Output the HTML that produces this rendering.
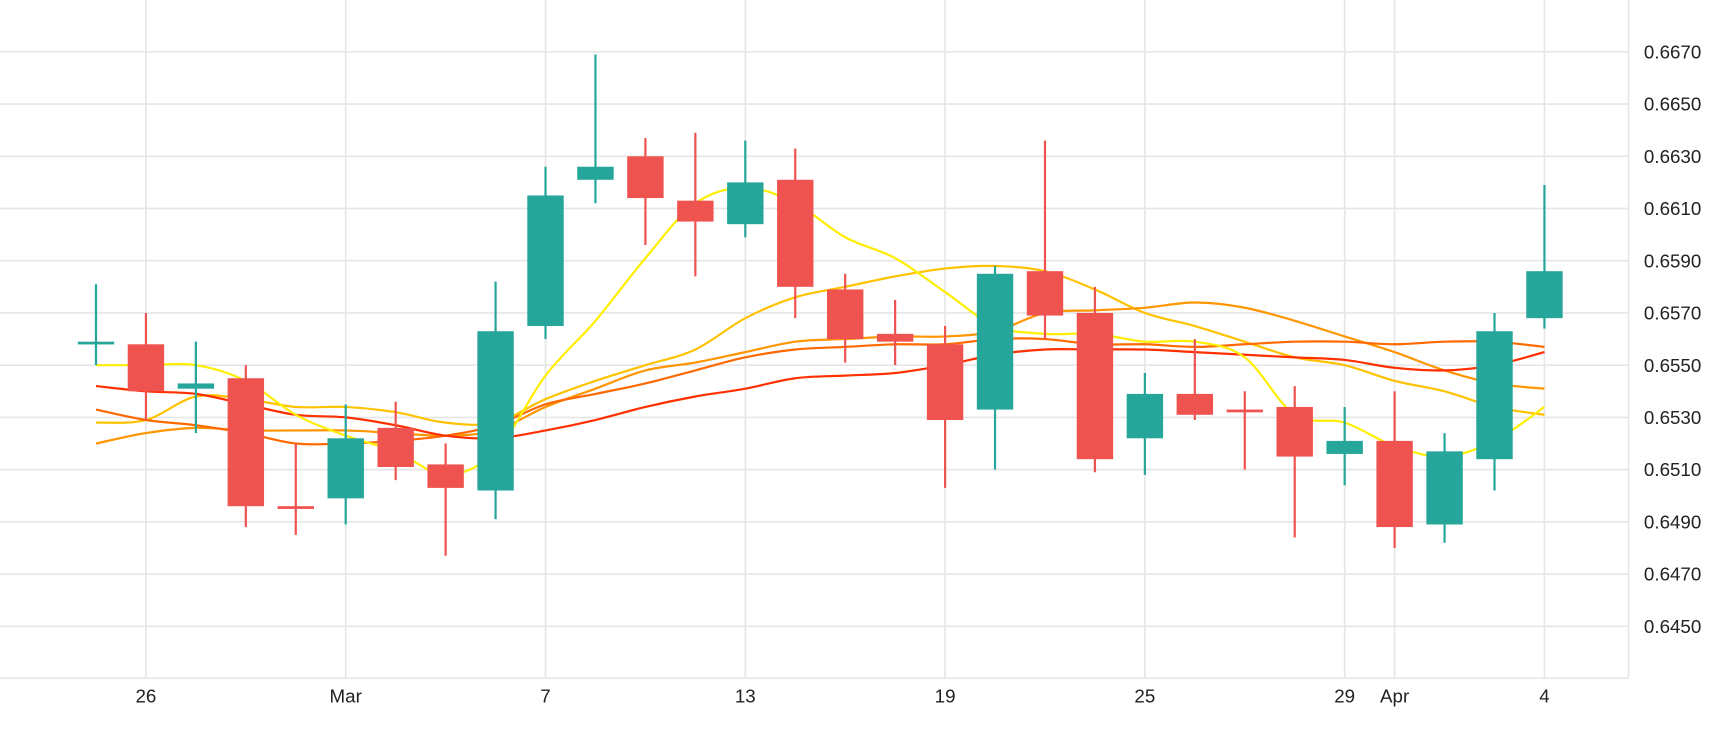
<!DOCTYPE html>
<html><head><meta charset="utf-8"><style>
html,body{margin:0;padding:0;background:#fff;}
svg{display:block;}
text{font-family:"Liberation Sans",sans-serif;fill:#222;}
</style></head><body>
<svg id="chart" width="1730" height="730" viewBox="0 0 1568 662" preserveAspectRatio="none" xmlns="http://www.w3.org/2000/svg">
<g id="grid"></g>
<g id="lines"></g>
<g id="candles"></g>
<g id="axes"></g>
</svg>
<script>
const opens  = [0.6558,0.6558,0.6541,0.6545,0.6496,0.6499,0.6526,0.6512,0.6502,0.6565,0.6621,0.6630,0.6613,0.6604,0.6621,0.6579,0.6562,0.6558,0.6533,0.6586,0.6570,0.6522,0.6539,0.6533,0.6534,0.6516,0.6521,0.6489,0.6514,0.6568];
const closes = [0.6559,0.6540,0.6543,0.6496,0.6495,0.6522,0.6511,0.6503,0.6563,0.6615,0.6626,0.6614,0.6605,0.6620,0.6580,0.6560,0.6559,0.6529,0.6585,0.6569,0.6514,0.6539,0.6531,0.6532,0.6515,0.6521,0.6488,0.6517,0.6563,0.6586];
const highs  = [0.6581,0.6570,0.6559,0.6550,0.6520,0.6535,0.6536,0.6520,0.6582,0.6626,0.6669,0.6637,0.6639,0.6636,0.6633,0.6585,0.6575,0.6565,0.6588,0.6636,0.6580,0.6547,0.6560,0.6540,0.6542,0.6534,0.6540,0.6524,0.6570,0.6619];
const lows   = [0.6550,0.6529,0.6524,0.6488,0.6485,0.6489,0.6506,0.6477,0.6491,0.6560,0.6612,0.6596,0.6584,0.6599,0.6568,0.6551,0.6550,0.6503,0.6510,0.6560,0.6509,0.6508,0.6529,0.6510,0.6484,0.6504,0.6480,0.6482,0.6502,0.6564];
const maYellow = [0.6550,0.6550,0.6550,0.6544,0.6531,0.6523,0.6517,0.6508,0.6517,0.6546,0.6567,0.6591,0.6612,0.6618,0.6612,0.6599,0.6591,0.6578,0.6565,0.6562,0.6562,0.6559,0.6559,0.6553,0.6531,0.6528,0.6519,0.6515,0.6521,0.6534];
const maGold   = [0.6528,0.6529,0.6538,0.6537,0.6534,0.6534,0.6532,0.6528,0.6528,0.6537,0.6544,0.6550,0.6556,0.6568,0.6576,0.6580,0.6584,0.6587,0.6588,0.6586,0.6579,0.6570,0.6565,0.6559,0.6553,0.6550,0.6544,0.6540,0.6534,0.6531];
const maOrange = [0.6520,0.6524,0.6526,0.6525,0.6525,0.6525,0.6524,0.6523,0.6525,0.6534,0.6541,0.6548,0.6551,0.6555,0.6559,0.6560,0.6561,0.6561,0.6563,0.6570,0.6571,0.6572,0.6574,0.6572,0.6567,0.6561,0.6555,0.6548,0.6543,0.6541];
const maOrangeRed = [0.6533,0.6529,0.6527,0.6524,0.6520,0.6520,0.6521,0.6523,0.6527,0.6535,0.6539,0.6543,0.6548,0.6553,0.6556,0.6557,0.6558,0.6558,0.6560,0.6560,0.6558,0.6558,0.6557,0.6558,0.6559,0.6559,0.6558,0.6559,0.6559,0.6557];
const maRed    = [0.6542,0.6540,0.6539,0.6535,0.6531,0.6530,0.6527,0.6523,0.6522,0.6525,0.6529,0.6534,0.6538,0.6541,0.6545,0.6546,0.6547,0.6550,0.6554,0.6556,0.6556,0.6556,0.6555,0.6554,0.6553,0.6552,0.6549,0.6548,0.6550,0.6555];
const yTicks = [0.6670,0.6650,0.6630,0.6610,0.6590,0.6570,0.6550,0.6530,0.6510,0.6490,0.6470,0.6450];
const xTickIdx = [1,5,9,13,17,21,25,26,29];
const xTickLabels = ["26","Mar","7","13","19","25","29","Apr","4"];

const NS="http://www.w3.org/2000/svg";
const PL=0, PR=1476, PT=0, PB=615;
function yS(v){ return 47 + (0.6670 - v) / 0.0020 * 47.36; }
function xS(i){ return 87 + i * 45.27; }
function mk(tag, attrs, parent){ const e=document.createElementNS(NS,tag); for(const k in attrs) e.setAttribute(k,attrs[k]); parent.appendChild(e); return e; }
const grid=document.getElementById('grid'), axes=document.getElementById('axes'), cg=document.getElementById('candles'), lg=document.getElementById('lines');

yTicks.forEach(v=>{
  const l=mk('line',{x1:PL,x2:PR,y1:yS(v),y2:yS(v),stroke:'#e6e6e6','stroke-width':1.5},grid);
  
  
  const t=mk('text',{x:1490,y:yS(v)+6,'font-size':17},axes);
  t.textContent=v.toFixed(4);
  
  
});
xTickIdx.forEach((i,k)=>{
  const l=mk('line',{x1:xS(i),x2:xS(i),y1:PT,y2:PB,stroke:'#e6e6e6','stroke-width':1.5},grid);
  
  
  const t=mk('text',{x:xS(i),y:637,'font-size':17,'text-anchor':'middle'},axes);
  t.textContent=xTickLabels[k];
  
  
});
const bx=mk('line',{x1:0,x2:PR,y1:PB,y2:PB,stroke:'#e6e6e6','stroke-width':1.5},grid);


const by=mk('line',{x1:PR,x2:PR,y1:0,y2:PB,stroke:'#e6e6e6','stroke-width':1.5},grid);



function smooth(vals){
  const p=vals.map((v,i)=>[xS(i),yS(v)]);
  let d='M'+p[0][0]+','+p[0][1];
  for(let i=0;i<p.length-1;i++){
    const p0=p[i-1]||p[i], p1=p[i], p2=p[i+1], p3=p[i+2]||p2;
    const c1=[p1[0]+(p2[0]-p0[0])/6, p1[1]+(p2[1]-p0[1])/6];
    const c2=[p2[0]-(p3[0]-p1[0])/6, p2[1]-(p3[1]-p1[1])/6];
    d+=' C'+c1[0]+','+c1[1]+' '+c2[0]+','+c2[1]+' '+p2[0]+','+p2[1];
  }
  return d;
}
const series=[[maGold,'#ffc200','ma-gold'],[maOrange,'#ff9500','ma-orange'],[maOrangeRed,'#ff6a00','ma-orange-red'],[maRed,'#ff3000','ma-red'],[maYellow,'#ffee00','ma-yellow']];
series.forEach(s=>{
  const p=mk('path',{d:smooth(s[0]),fill:'none',stroke:s[1],'stroke-width':2},lg);
  
  
});

opens.forEach((o,i)=>{
  const c=closes[i], up=c>=o, col=up?'#26a69a':'#ef5350';
  const x=xS(i);
  const w=mk('line',{x1:x,x2:x,y1:yS(highs[i]),y2:yS(lows[i]),stroke:col,'stroke-width':2},cg);
  
  
  const top=yS(Math.max(o,c)), h=Math.max(2.5,yS(Math.min(o,c))-top);
  const b=mk('rect',{x:x-16.5,y:top,width:33,height:h,fill:col},cg);
  
  
});
</script>
</body></html>
